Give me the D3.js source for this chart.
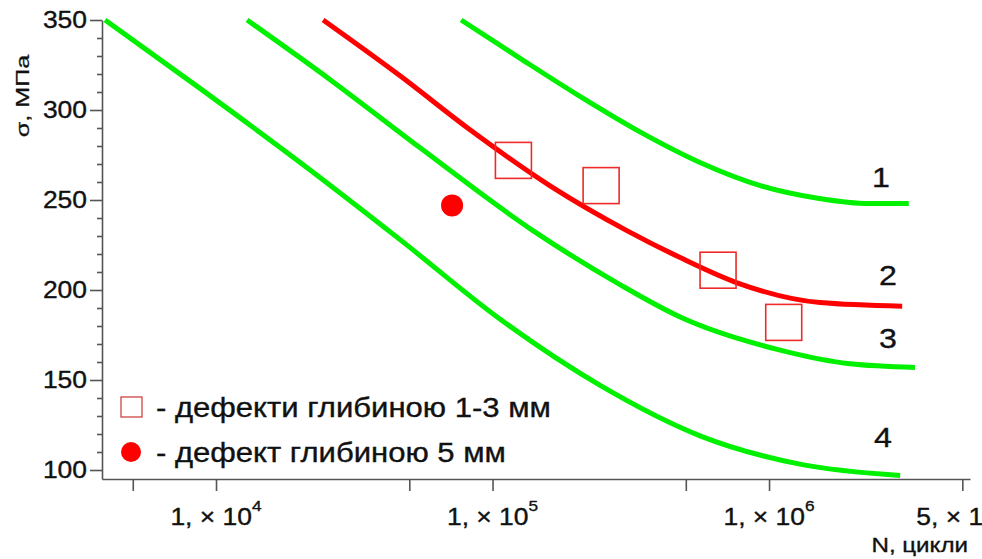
<!DOCTYPE html>
<html>
<head>
<meta charset="utf-8">
<script src="https://cdn.jsdelivr.net/npm/d3@7"></script>
<style>
  body { margin: 0; background: #fff; }
  svg { display: block; font-family: "Liberation Sans", Arial, sans-serif; }
</style>
</head>
<body>
<div id="chart"></div>
<script>
//////////////////////////////////////////////////////////
/////////////////////// Data ////////////////////////////
//////////////////////////////////////////////////////////

// S-N curves, [N cycles, sigma MPa]
const curve1 = [[77000, 350], [125000, 329], [205000, 308], [340000, 288], [560000, 271], [930000, 258], [1500000, 251], [2300000, 248], [3200000, 248]];
const curve2 = [[24400, 350], [46300, 319], [82900, 289], [161000, 258], [306000, 233], [477000, 218], [766000, 204], [1530000, 193], [3030000, 191]];
const curve3 = [[12950, 350], [25800, 317], [54700, 279], [140000, 233], [289000, 203], [477000, 185], [1070000, 167], [1960000, 159], [3370000, 157]];
const curve4 = [[3970, 350], [8750, 312], [20100, 271], [46300, 228], [106000, 184], [245000, 147], [563000, 119], [1320000, 103], [2980000, 97]];

// measured specimens
const squareN = [119000, 247000, 654000, 1130000];   // defects 1-3 mm
const squareS = [272, 258, 211, 182];
const dotN = [71400];                                // defect 5 mm
const dotS = [247];

// curve numbers
const curveLabels = ["1", "2", "3", "4"];
const labelN = [2540000, 2690000, 2690000, 2580000];
const labelS = [257, 203, 168, 113];

// axes
const yMajorTicks = [100, 150, 200, 250, 300, 350];
const yMinorTicks = d3.range(100, 351, 10).filter(v => v % 50 !== 0);
const xTicks = [5e3, 1e4, 5e4, 1e5, 5e5, 1e6, 5e6];
const xLabelTicks = [1e4, 1e5, 1e6];
const xLastLabel = "5, × 1";   // the last label is cut by the picture edge

const legendItems = ["- дефекти глибиною 1-3 мм", "- дефект глибиною 5 мм"];

//////////////////////////////////////////////////////////
/////////////////////// Setup ///////////////////////////
//////////////////////////////////////////////////////////
const width = 982;
const height = 559;
const margin = {top: 20, right: 12, bottom: 80, left: 102};

const green = "#00f000";
const red = "#ff0000";
const axisColour = "#555";
const textColour = "#111";
const sx = 1.15; // the source text is a bit wider than Arial

const svg = d3.select("#chart").append("svg")
  .attr("width", width)
  .attr("height", height);

const x = d3.scaleLog()
  .domain([3870, 5.33e6])
  .range([margin.left, width - margin.right]);

const y = d3.scaleLinear()
  .domain([95, 350])
  .range([height - margin.bottom, margin.top]);

// text drawn with a slight horizontal stretch
const addText = (parent, px, py, str, size, anchor) => parent.append("text")
  .attr("transform", `translate(${px},${py}) scale(${sx},1)`)
  .attr("font-size", size)
  .attr("fill", textColour)
  .attr("stroke", textColour)
  .attr("stroke-width", 0.35)
  .attr("text-anchor", anchor || "start")
  .text(str);

/////////////////////// Axes ///////////////////////////
svg.append("g")
  .attr("transform", `translate(${margin.left},0)`)
  .call(d3.axisLeft(y).tickValues(yMajorTicks).tickSize(12).tickSizeOuter(0).tickFormat(""))
  .call(g => g.selectAll("line, path").attr("stroke", axisColour).attr("stroke-width", 1.6));

svg.append("g")
  .attr("transform", `translate(${margin.left},0)`)
  .call(d3.axisLeft(y).tickValues(yMinorTicks).tickSize(5).tickSizeOuter(0).tickFormat(""))
  .call(g => g.select(".domain").remove())
  .call(g => g.selectAll("line").attr("stroke", axisColour).attr("stroke-width", 1.6));

yMajorTicks.forEach(v => addText(svg, margin.left - 15, y(v) + 8, v, 23, "end"));

svg.append("g")
  .attr("transform", `translate(0,${height - margin.bottom})`)
  .call(d3.axisBottom(x).tickValues(xTicks).tickSize(12).tickSizeOuter(0).tickFormat(""))
  .call(g => g.selectAll("line, path").attr("stroke", axisColour).attr("stroke-width", 1.6));

xLabelTicks.forEach(v => {
  const exp = Math.round(Math.log10(v));
  const t = addText(svg, x(v), height - margin.bottom + 46, null, 23, "middle");
  t.append("tspan").text("1, × 10");
  t.append("tspan").attr("font-size", 15).attr("dy", -14).text(exp);
});
addText(svg, x(5e6) - 46, height - margin.bottom + 46, xLastLabel, 23, "start");

addText(svg, width - 14, 552, "N, цикли", 21, "end");

svg.append("text")
  .attr("transform", `translate(29,96) rotate(-90) scale(1.2,0.85)`)
  .attr("font-size", 21)
  .attr("fill", textColour)
  .attr("stroke", textColour)
  .attr("stroke-width", 0.3)
  .attr("text-anchor", "middle")
  .text("σ, МПа");

/////////////////////// Curves ///////////////////////////
const line = d3.line(d => x(d[0]), d => y(d[1])).curve(d3.curveMonotoneX);

svg.selectAll(".sn-curve")
  .data([curve1, curve3, curve4, curve2])
  .join("path")
    .attr("class", "sn-curve")
    .attr("fill", "none")
    .attr("stroke", (d, i) => i === 3 ? red : green)
    .attr("stroke-width", 5)
    .attr("stroke-linejoin", "round")
    .attr("d", line);

/////////////////////// Points ///////////////////////////
const sq = 36;
svg.selectAll(".sq")
  .data(squareN)
  .join("rect")
    .attr("class", "sq")
    .attr("x", d => x(d) - sq / 2)
    .attr("y", (d, i) => y(squareS[i]) - sq / 2)
    .attr("width", sq)
    .attr("height", sq)
    .attr("fill", "none")
    .attr("stroke", "#ee2a2a")
    .attr("stroke-width", 1.6);

svg.selectAll(".dot")
  .data(dotN)
  .join("circle")
    .attr("class", "dot")
    .attr("cx", d => x(d))
    .attr("cy", (d, i) => y(dotS[i]))
    .attr("r", 11)
    .attr("fill", red);

curveLabels.forEach((l, i) => addText(svg, x(labelN[i]), y(labelS[i]), l, 28, "middle"));

/////////////////////// Legend ///////////////////////////
const legend = svg.append("g");
legend.append("rect")
  .attr("x", 121).attr("y", 397).attr("width", 21).attr("height", 20)
  .attr("fill", "none").attr("stroke", "#c33").attr("stroke-width", 1.2);
legend.append("circle")
  .attr("cx", 131).attr("cy", 452).attr("r", 10).attr("fill", red);
legendItems.forEach((t, i) => addText(legend, 156, 417 + i * 45, t, 27));
</script>
</body>
</html>
